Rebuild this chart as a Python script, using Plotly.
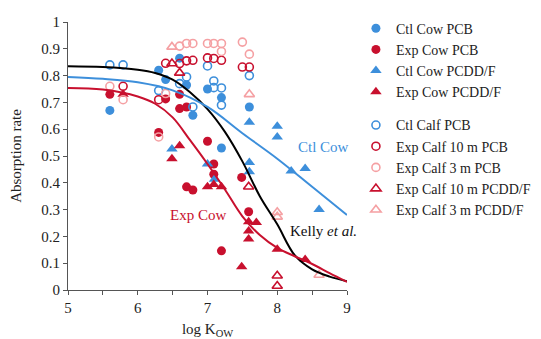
import plotly.graph_objects as go

# ---- data ----
ctl_cow_pcb_x = [5.6, 6.3, 6.4, 6.6, 6.7, 6.79, 7.0, 7.2, 7.2, 7.6]
ctl_cow_pcb_y = [0.67, 0.82, 0.785, 0.865, 0.765, 0.652, 0.75, 0.718, 0.53, 0.683]

exp_cow_pcb_x = [5.6, 6.3, 6.4, 6.6, 6.6, 6.7, 6.7, 6.79, 7.0, 7.09, 7.09, 7.2, 7.49, 7.59]
exp_cow_pcb_y = [0.73, 0.588, 0.713, 0.73, 0.677, 0.683, 0.385, 0.373, 0.555, 0.47, 0.432, 0.146, 0.42, 0.292]

ctl_cow_pcdd_x = [6.49, 7.0, 7.1, 7.6, 7.6, 7.6, 8.0, 8.0, 8.2, 8.4, 8.6]
ctl_cow_pcdd_y = [0.526, 0.47, 0.413, 0.626, 0.476, 0.441, 0.611, 0.571, 0.444, 0.453, 0.30]

exp_cow_pcdd_x = [5.79, 6.49, 6.6, 7.0, 7.09, 7.2, 7.49, 7.59, 7.59, 7.59, 7.7, 8.0, 8.4]
exp_cow_pcdd_y = [0.73, 0.49, 0.538, 0.385, 0.394, 0.385, 0.087, 0.255, 0.22, 0.19, 0.252, 0.152, 0.114]

ctl_calf_pcb_x = [5.6, 5.79, 6.3, 6.6, 6.7, 6.79, 7.0, 7.09, 7.09, 7.2, 7.2, 7.6]
ctl_calf_pcb_y = [0.84, 0.84, 0.744, 0.77, 0.795, 0.683, 0.836, 0.78, 0.755, 0.754, 0.69, 0.80]

exp_calf10_pcb_x = [5.79, 6.3, 6.4, 6.6, 6.7, 6.79, 7.0, 7.09, 7.2, 7.5, 7.6]
exp_calf10_pcb_y = [0.76, 0.71, 0.846, 0.845, 0.855, 0.857, 0.866, 0.864, 0.857, 0.832, 0.832]

exp_calf3_pcb_x = [5.6, 5.79, 6.3, 6.4, 6.6, 6.7, 6.79, 7.0, 7.09, 7.2, 7.2, 7.5, 7.6]
exp_calf3_pcb_y = [0.76, 0.71, 0.571, 0.733, 0.91, 0.92, 0.92, 0.92, 0.92, 0.92, 0.89, 0.925, 0.88]

exp_calf10_pcdd_x = [6.49, 6.6, 7.59, 8.0, 8.0]
exp_calf10_pcdd_y = [0.845, 0.81, 0.385, 0.053, 0.015]

exp_calf3_pcdd_x = [6.49, 7.6, 8.0, 8.0, 8.6]
exp_calf3_pcdd_y = [0.907, 0.73, 0.29, 0.273, 0.056]

# fitted curves
kelly_x = [5.0, 5.5, 6.0, 6.25, 6.5, 6.75, 7.0, 7.25, 7.5, 7.75, 8.0, 8.25, 8.5, 8.75, 9.0]
kelly_y = [0.835, 0.832, 0.822, 0.81, 0.785, 0.738, 0.675, 0.59, 0.48, 0.35, 0.245, 0.13, 0.077, 0.05, 0.033]

ctl_fit_x = [5.0, 5.5, 6.0, 6.5, 7.0, 7.5, 8.0, 8.5, 9.0]
ctl_fit_y = [0.795, 0.788, 0.775, 0.745, 0.683, 0.585, 0.49, 0.385, 0.28]

exp_fit_x = [5.0, 5.5, 6.0, 6.25, 6.5, 6.75, 7.0, 7.25, 7.5, 7.75, 8.0, 8.25, 8.5, 8.75, 9.0]
exp_fit_y = [0.754, 0.748, 0.722, 0.695, 0.644, 0.559, 0.47, 0.375, 0.275, 0.205, 0.157, 0.126, 0.097, 0.063, 0.03]

x_ticks = [5, 6, 7, 8, 9]
y_ticks = [0, 0.1, 0.2, 0.3, 0.4, 0.5, 0.6, 0.7, 0.8, 0.9, 1]
y_tick_text = ["0", "0.1", "0.2", "0.3", "0.4", "0.5", "0.6", "0.7", "0.8", "0.9", "1"]

BLUE = "#3d8fdb"
RED = "#c8102e"
PINK = "#f5a0a3"
FONT = "Liberation Serif"

fig = go.Figure()

def pts(x, y, name, color, symbol, filled, group):
    if filled:
        marker = dict(color=color, size=9 if symbol == "circle" else 10, symbol=symbol)
    else:
        marker = dict(color="rgba(0,0,0,0)", size=8 if symbol == "circle" else 9,
                      symbol=symbol, line=dict(color=color, width=1.6))
    fig.add_trace(go.Scatter(x=x, y=y, mode="markers", name=name, marker=marker,
                             legendgroup=group))

pts(ctl_cow_pcb_x, ctl_cow_pcb_y, "Ctl Cow PCB", BLUE, "circle", True, "a")
pts(exp_cow_pcb_x, exp_cow_pcb_y, "Exp Cow PCB", RED, "circle", True, "a")
pts(ctl_cow_pcdd_x, ctl_cow_pcdd_y, "Ctl Cow PCDD/F", BLUE, "triangle-up", True, "a")
pts(exp_cow_pcdd_x, exp_cow_pcdd_y, "Exp Cow PCDD/F", RED, "triangle-up", True, "a")
pts(ctl_calf_pcb_x, ctl_calf_pcb_y, "Ctl Calf PCB", BLUE, "circle", False, "b")
pts(exp_calf10_pcb_x, exp_calf10_pcb_y, "Exp Calf 10 m PCB", RED, "circle", False, "b")
pts(exp_calf3_pcb_x, exp_calf3_pcb_y, "Exp Calf 3 m PCB", PINK, "circle", False, "b")
pts(exp_calf10_pcdd_x, exp_calf10_pcdd_y, "Exp Calf 10 m PCDD/F", RED, "triangle-up", False, "b")
pts(exp_calf3_pcdd_x, exp_calf3_pcdd_y, "Exp Calf 3 m PCDD/F", PINK, "triangle-up", False, "b")

for cx, cy, col in [(kelly_x, kelly_y, "black"), (ctl_fit_x, ctl_fit_y, BLUE), (exp_fit_x, exp_fit_y, RED)]:
    fig.add_trace(go.Scatter(x=cx, y=cy, mode="lines", line=dict(color=col, width=2, shape="spline"),
                             showlegend=False, hoverinfo="skip"))

fig.add_annotation(x=8.657, y=0.533, text="Ctl Cow", showarrow=False,
                   font=dict(family=FONT, size=15, color=BLUE))
fig.add_annotation(x=6.87, y=0.28, text="Exp Cow", showarrow=False,
                   font=dict(family=FONT, size=15, color=RED))
fig.add_annotation(x=8.67, y=0.22, text="Kelly <i>et al.</i>", showarrow=False,
                   font=dict(family=FONT, size=15, color="#111"))

axis_common = dict(showgrid=False, zeroline=False, showline=True, linecolor="#555", linewidth=1,
                   ticks="outside", ticklen=4, tickcolor="#555",
                   tickfont=dict(family=FONT, size=15, color="#222"))

# page body has an 8px margin, so the figure is sized/offset to land where the reference is
fig.update_layout(
    width=533, height=331,
    margin=dict(l=60, r=194, t=14, b=49, autoexpand=False),
    paper_bgcolor="white", plot_bgcolor="white",
    xaxis=dict(range=[5, 9], tickvals=x_ticks,
               minor=dict(dtick=0.5, ticks="outside", ticklen=4, tickcolor="#555"),
               title=dict(text="log K<sub>OW</sub>", font=dict(family=FONT, size=15, color="#222"), standoff=8),
               **axis_common),
    yaxis=dict(range=[0, 1], tickvals=y_ticks, ticktext=y_tick_text,
               title=dict(text="Absorption rate", font=dict(family=FONT, size=15, color="#222"), standoff=17),
               **axis_common),
    legend=dict(x=1.032, xanchor="left", y=1.035, yanchor="top", traceorder="grouped",
                tracegroupgap=12, font=dict(family=FONT, size=14, color="#222"),
                bgcolor="rgba(0,0,0,0)", itemwidth=30, maxheight=320),
    showlegend=True,
)

fig.write_html("out.html")
